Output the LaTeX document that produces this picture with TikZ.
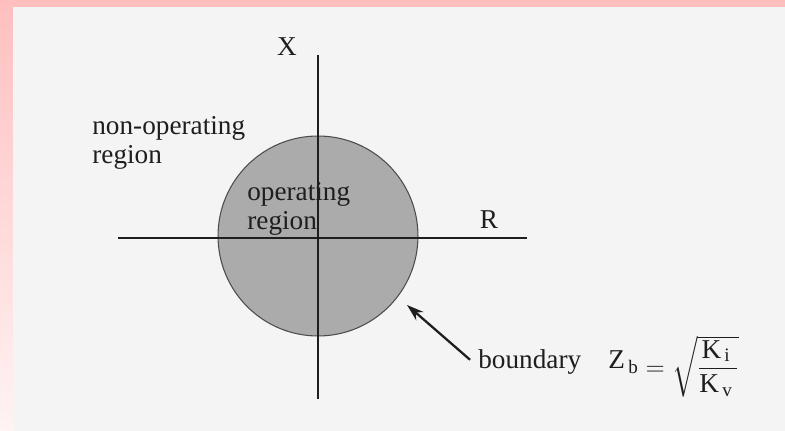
\documentclass[tikz,border=0pt]{standalone}
\usepackage{amsmath}
\usepackage{fontspec}
\setmainfont{Liberation Serif}
\usetikzlibrary{arrows.meta}

\definecolor{frame}{HTML}{FFBFBF}
\definecolor{framelow}{HTML}{FFF3F3}
\definecolor{paper}{HTML}{F4F4F4}
\definecolor{ink}{HTML}{1E1E1E}
\definecolor{opfill}{HTML}{ABABAB}

\begin{document}
\begin{tikzpicture}[
  x=0.02cm, y=-0.02cm,
  axis/.style={draw=ink, line width=1.6pt},
  lbl/.style={text=ink, font=\fontsize{15.5}{16.5}\selectfont, inner sep=0pt, align=left},
  ptr/.style={-{Stealth[length=3.4mm, width=2.2mm]}, draw=ink, line width=1.3pt}
]
% frame and paper
\fill[frame] (0,0) rectangle (785,431);
\shade[top color=frame, bottom color=framelow] (0,0) rectangle (13,431);
\fill[paper] (13,7) rectangle (785,431);

% operating disc
\fill[opfill, draw=ink!80, semithick] (318,236) circle (2cm);

% axes
\draw[axis] (118,238) -- (527,238);
\draw[axis] (318,55) -- (318,399);

\node[lbl] (xlab) at (287,47) {X};
\node[lbl] (rlab) at (489,220) {R};
\node[lbl, anchor=west] (nonop) at (92,143) {non-operating\\region};
\node[lbl, anchor=west] (oper)  at (247,209) {operating\\region};

% boundary label and pointer
\node[lbl, anchor=base west] (bnd) at (478,369)
  {boundary\quad$\mathrm{Z}_{\,\mathrm{b}}$\raisebox{-3.5pt}{$\;= \sqrt{\dfrac{\mathrm{K}_{\,\mathrm{i}}\,}{\mathrm{K}_{\,\mathrm{v}}\,}}\,$}};
\coordinate (tip) at (407,305);
\draw[ptr, shorten <=6pt] (bnd.west) -- (tip);
\end{tikzpicture}
\end{document}
